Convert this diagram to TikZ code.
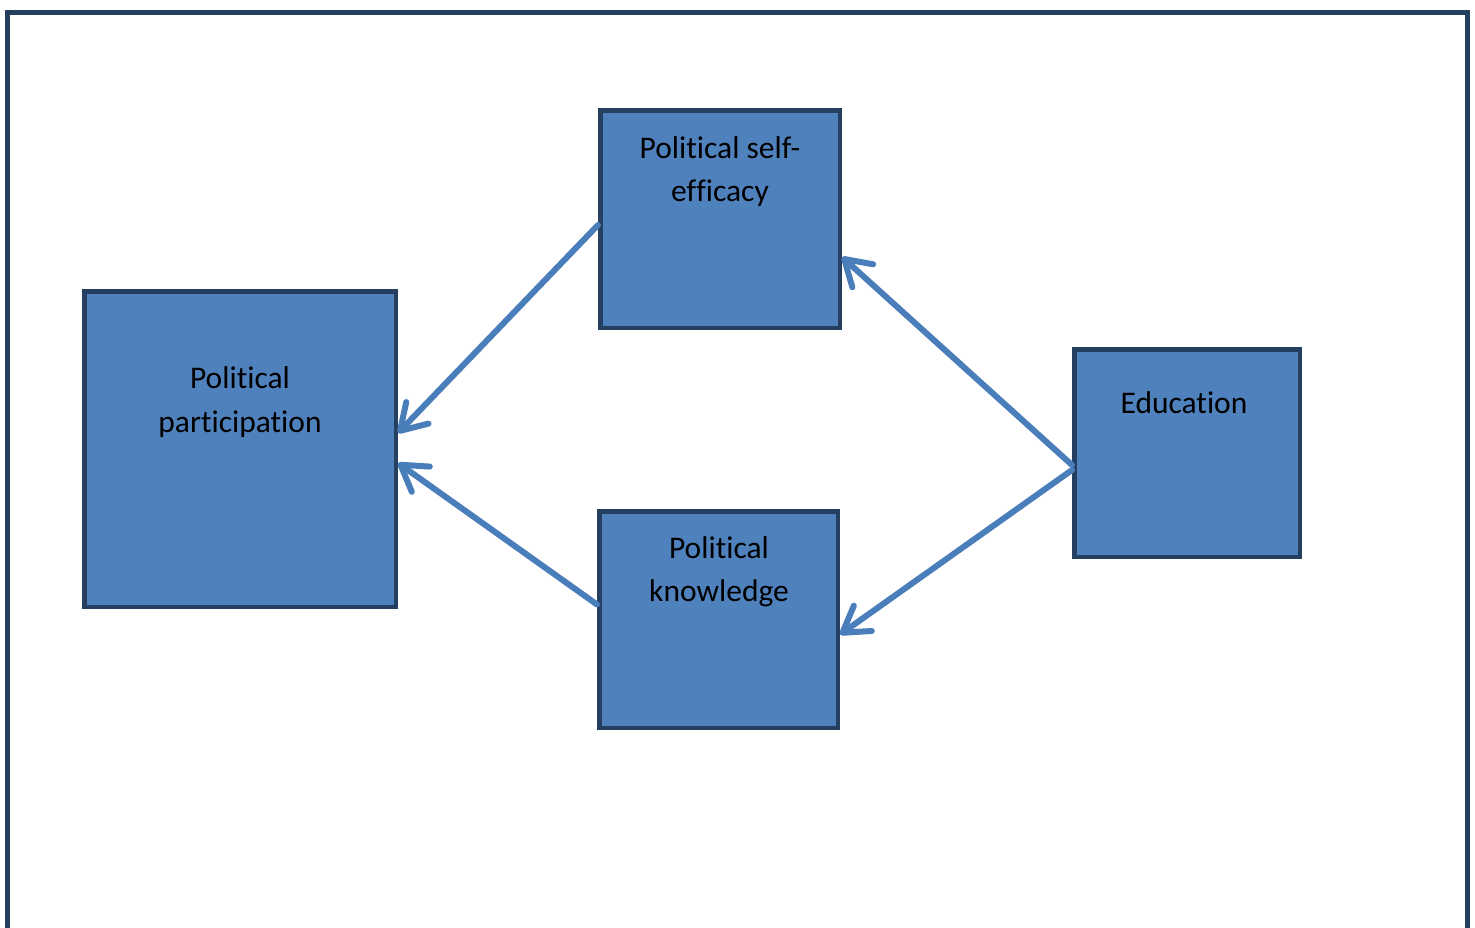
\documentclass[tikz,border=0pt]{standalone}
\usepackage{fontspec}
\setmainfont[Ligatures={NoCommon,NoContextual}]{Carlito}
\usetikzlibrary{arrows.meta}
\newcommand{\nolig}{\kern0pt{}}
\definecolor{boxfill}{HTML}{4F81BD}
\definecolor{boxline}{HTML}{243F60}
\definecolor{arrowcol}{HTML}{4A7EBB}
\tikzset{
  box/.style={draw=boxline, line width=4.5pt, fill=boxfill, rectangle, inner sep=0pt},
  lbl/.style={anchor=base, inner sep=0pt, font=\fontsize{31.5}{43}\selectfont, text=black},
  conn/.style={draw=arrowcol, line width=6pt, line cap=round,
    -{Straight Barb[length=25pt, width=31pt, round]}},
  frame/.style={draw=boxline, line width=5pt}
}
\begin{document}
\begin{tikzpicture}[x=1pt, y=-1pt]
\useasboundingbox (0,0) rectangle (1475,927);
\coordinate (fbl) at (7,940);
\coordinate (ftl) at (7,12.5);
\coordinate (ftr) at (1467,12.5);
\coordinate (fbr) at (1467,940);
\draw[frame] (fbl) -- (ftl) -- (ftr) -- (fbr);

\node[box, minimum width=311.5pt, minimum height=315.5pt] (pp) at (240,449) {};
\node[box, minimum width=239.5pt, minimum height=217.5pt] (se) at (720,219) {};
\node[box, minimum width=238.5pt, minimum height=216.5pt] (pk) at (718.5,619.5) {};
\node[box, minimum width=225.5pt, minimum height=207.5pt] (ed) at (1187,453) {};

\node[lbl] (se1) at (720,158) {Polit\nolig ical self-};
\node[lbl] (se2) at (720,201) {ef\nolig f\nolig icacy};
\node[lbl] (pp1) at (240,388) {Polit\nolig ical};
\node[lbl] (pp2) at (240,432) {part\nolig icipat\nolig ion};
\node[lbl] (pk1) at (719,558) {Polit\nolig ical};
\node[lbl] (pk2) at (719,601) {knowledge};
\node[lbl] (ed1) at (1184,413) {Educat\nolig ion};

\draw[conn] ([yshift=-6pt]se.west) -- ([yshift=16pt]pp.east);
\draw[conn] ([yshift=15pt]pk.west) -- ([yshift=-14pt]pp.east);
\draw[conn] ([yshift=-12pt]ed.west) -- ([yshift=-38pt]se.east);
\draw[conn] ([yshift=-17pt]ed.west) -- ([yshift=-15pt]pk.east);
\end{tikzpicture}
\end{document}
